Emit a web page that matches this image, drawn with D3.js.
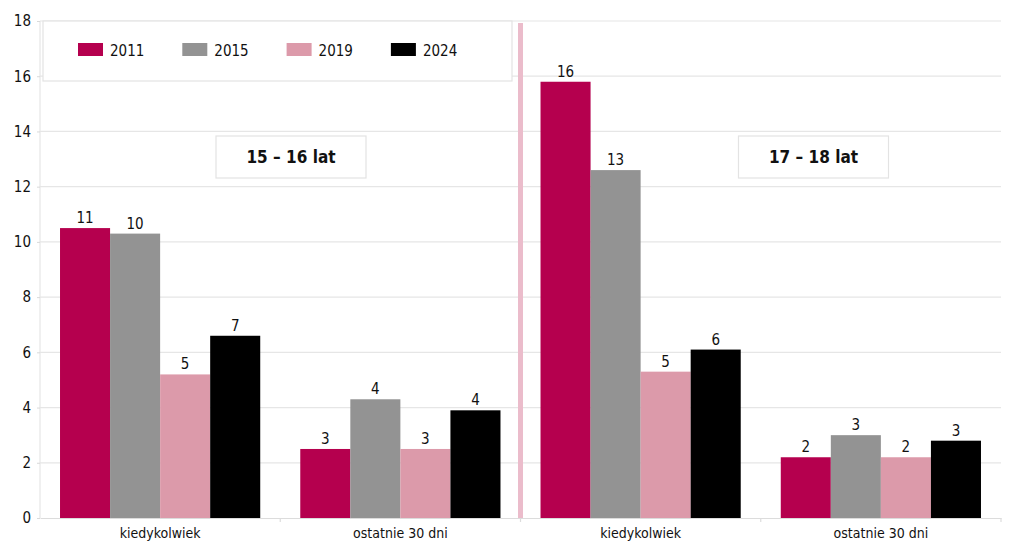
<!DOCTYPE html>
<html>
<head>
<meta charset="utf-8">
<script src="https://cdn.jsdelivr.net/npm/d3@7"></script>
<style>
  body { margin: 0; background: #fff; }
  text { font-family: "DejaVu Sans Condensed", "DejaVu Sans", sans-serif; font-stretch: condensed; fill: #111; }
</style>
</head>
<body>
<script>
// data
const panels = ["15 – 16 lat", "17 – 18 lat"];
const measures = ["kiedykolwiek", "ostatnie 30 dni"];
const years = ["2011", "2015", "2019", "2024"];
const values2011 = [10.5, 2.5, 15.8, 2.2];
const values2015 = [10.3, 4.3, 12.6, 3.0];
const values2019 = [5.2, 2.5, 5.3, 2.2];
const values2024 = [6.6, 3.9, 6.1, 2.8];
const labels2011 = [11, 3, 16, 2];
const labels2015 = [10, 4, 13, 3];
const labels2019 = [5, 3, 5, 2];
const labels2024 = [7, 4, 6, 3];
const yTicks = [0, 2, 4, 6, 8, 10, 12, 14, 16, 18];
const colors = ["#b5004e", "#939393", "#dc9aaa", "#000000"];

const seriesValues = [values2011, values2015, values2019, values2024];
const seriesLabels = [labels2011, labels2015, labels2019, labels2024];

// one slot per panel + measure
const slots = [];
panels.forEach(function (p, pi) {
  measures.forEach(function (m, mi) {
    slots.push({ key: pi + "-" + mi, panel: pi, measure: m });
  });
});

const width = 1024, height = 546;
const mLeft = 40, mRight = 1001, mTop = 21, mBottom = 518;
const fontFam = "'DejaVu Sans Condensed', 'DejaVu Sans', sans-serif";

const svg = d3.select("body").append("svg")
  .attr("width", width).attr("height", height);

const y = d3.scaleLinear().domain([0, 18]).range([mBottom, mTop]);
const x0 = d3.scaleBand().domain(slots.map(d => d.key)).range([mLeft, mRight]);
const x1 = d3.scaleBand().domain(years).range([0, x0.bandwidth()]).paddingOuter(0.4);
const xp = d3.scaleBand().domain(d3.range(panels.length)).range([mLeft, mRight]);

// gridlines
svg.append("g").selectAll("line").data(yTicks.filter(t => t > 0)).enter().append("line")
  .attr("x1", mLeft).attr("x2", mRight)
  .attr("y1", d => y(d)).attr("y2", d => y(d))
  .attr("stroke", "#e6e6e6").attr("stroke-width", 1.2);

// left frame line
svg.append("line").attr("x1", mLeft).attr("x2", mLeft).attr("y1", mTop).attr("y2", mBottom)
  .attr("stroke", "#e6e6e6").attr("stroke-width", 1.2);

// y axis
const yAxis = svg.append("g").attr("transform", "translate(" + mLeft + ",0)")
  .call(d3.axisLeft(y).tickValues(yTicks).tickSize(3).tickPadding(6));
yAxis.select(".domain").remove();
yAxis.selectAll(".tick line").attr("stroke", "#d9d9d9");
yAxis.selectAll(".tick text").style("font-size", "15px").attr("fill", "#111")
  .style("font-family", fontFam).style("font-stretch", "condensed");

// x axis
const xAxis = svg.append("g").attr("transform", "translate(0," + mBottom + ")")
  .call(d3.axisBottom(x0).tickSize(0).tickPadding(10).tickFormat(k => slots.find(s => s.key === k).measure));
xAxis.select(".domain").attr("stroke", "#dcdcdc").attr("stroke-width", 1.2);
xAxis.selectAll(".tick text").style("font-size", "14px").attr("fill", "#111")
  .style("font-family", fontFam).style("font-stretch", "condensed");
svg.append("g").selectAll("line").data(slots).enter().append("line")
  .attr("x1", d => x0(d.key) + x0.bandwidth()).attr("x2", d => x0(d.key) + x0.bandwidth())
  .attr("y1", mBottom).attr("y2", mBottom + 4)
  .attr("stroke", "#dcdcdc").attr("stroke-width", 1.2);

// panel separator
svg.append("rect")
  .attr("x", xp(1) - 2.5).attr("y", mTop + 2)
  .attr("width", 5).attr("height", mBottom - mTop - 2)
  .attr("fill", "#ebbccb");

// bars
const groups = svg.append("g").selectAll("g").data(slots).enter().append("g")
  .attr("transform", d => "translate(" + x0(d.key) + ",0)");

groups.each(function (s, si) {
  const g = d3.select(this);
  years.forEach(function (yr, yi) {
    const v = seriesValues[yi][si];
    g.append("rect")
      .attr("x", x1(yr)).attr("width", x1.bandwidth())
      .attr("y", y(v)).attr("height", y(0) - y(v))
      .attr("fill", colors[yi]);
    g.append("text")
      .attr("x", x1(yr) + x1.bandwidth() / 2).attr("y", y(v) - 5)
      .attr("text-anchor", "middle").style("font-size", "15px")
      .text(seriesLabels[yi][si]);
  });
});

// legend
const legend = svg.append("g");
legend.append("rect").attr("x", 43).attr("y", mTop).attr("width", 469).attr("height", 60)
  .attr("fill", "#fff").attr("stroke", "#e3e3e3").attr("stroke-width", 1.2);
const items = legend.selectAll(".item").data(years).enter().append("g")
  .attr("class", "item")
  .attr("transform", (d, i) => "translate(" + (78 + i * 104.3) + ",43)");
items.append("rect").attr("width", 25).attr("height", 13).attr("fill", (d, i) => colors[i]);
items.append("text").attr("x", 32).attr("y", 12.5).style("font-size", "15px").text(d => d);

// panel titles
const titleOffsets = [176, 218];
const titles = svg.append("g").selectAll("g").data(panels).enter().append("g")
  .attr("transform", (d, i) => "translate(" + (xp(i) + titleOffsets[i]) + ",136)");
titles.append("rect").attr("width", 150).attr("height", 42)
  .attr("fill", "#fff").attr("stroke", "#e3e3e3").attr("stroke-width", 1.2);
titles.append("text").attr("x", 75).attr("y", 27).attr("text-anchor", "middle")
  .style("font-size", "17px").style("font-weight", "bold").text(d => d);
</script>
</body>
</html>
